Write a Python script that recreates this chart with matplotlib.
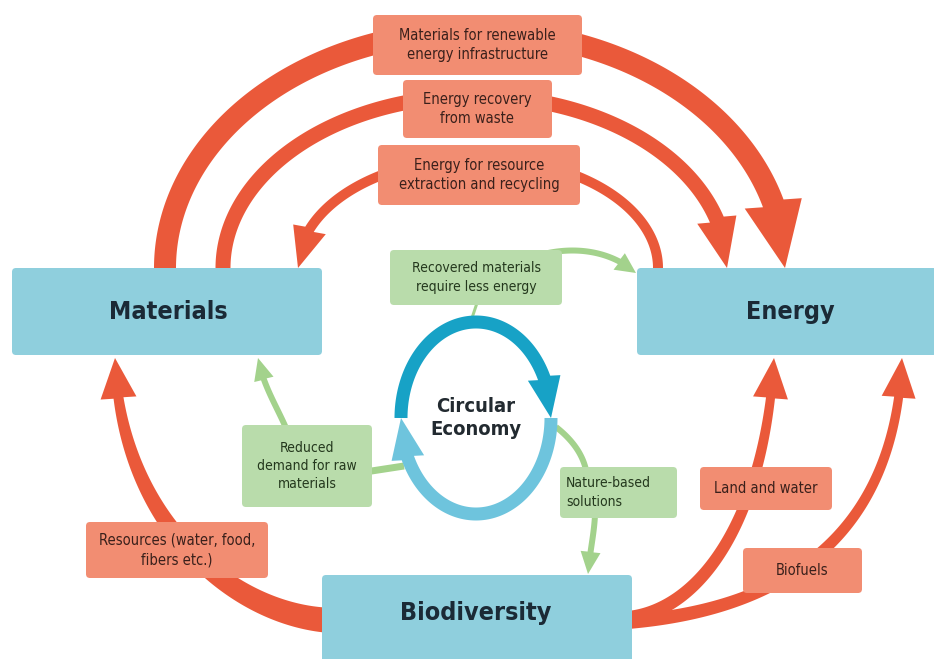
import numpy as np
import matplotlib
matplotlib.use("Agg")
import matplotlib.pyplot as plt
from matplotlib.patches import Polygon, FancyBboxPatch

# --- diagram content ---
node_names = ["Materials", "Energy", "Biodiversity"]
red_labels = [
    "Materials for renewable\nenergy infrastructure",
    "Energy recovery\nfrom waste",
    "Energy for resource\nextraction and recycling",
    "Resources (water, food,\nfibers etc.)",
    "Land and water",
    "Biofuels",
]
green_labels = [
    "Recovered materials\nrequire less energy",
    "Reduced\ndemand for raw\nmaterials",
    "Nature-based\nsolutions",
]
center_label = "Circular\nEconomy"

# --- layout (pixel coords, y down) ---
node_boxes = [(12, 268, 310, 87), (637, 268, 300, 87), (322, 575, 310, 90)]
red_boxes = [(373, 15, 209, 60), (403, 80, 149, 58), (378, 145, 202, 60),
             (86, 522, 182, 56), (700, 467, 132, 43), (743, 548, 119, 45)]
green_boxes = [(390, 250, 172, 55), (242, 425, 130, 82), (560, 467, 117, 51)]
green_align = ["center", "center", "left"]

BLUE = "#8fcfdd"
RED = "#ea593a"
SALMON = "#f28d72"
GBOX = "#b9dcab"
GARROW = "#a3d28c"
RING_DARK = "#17a2c6"
RING_LIGHT = "#6ec4dd"

W, H = 934, 659
fig = plt.figure(figsize=(W / 100, H / 100), dpi=100)
ax = fig.add_axes([0, 0, 1, 1])
ax.set_xlim(0, W)
ax.set_ylim(H, 0)
ax.axis("off")


def bezier(p0, p1, p2, p3, n=200):
    t = np.linspace(0, 1, n)[:, None]
    p0, p1, p2, p3 = map(np.array, (p0, p1, p2, p3))
    return ((1 - t) ** 3) * p0 + 3 * ((1 - t) ** 2) * t * p1 + 3 * (1 - t) * t ** 2 * p2 + t ** 3 * p3


def ellipse_arc(cx, cy, rx, ry, a0, a1, n=300):
    a = np.radians(np.linspace(a0, a1, n))
    return np.column_stack([cx + rx * np.cos(a), cy - ry * np.sin(a)])


def arrow(pts, w0, w1, color, hw=0, hl=0, z=2):
    d = np.diff(pts, axis=0)
    s = np.concatenate([[0], np.cumsum(np.hypot(d[:, 0], d[:, 1]))])
    L = s[-1]
    end = L - hl
    keep = s <= end
    body = pts[keep]
    sb = s[keep]
    tang = np.gradient(body, axis=0)
    tang /= np.linalg.norm(tang, axis=1)[:, None]
    nrm = np.column_stack([-tang[:, 1], tang[:, 0]])
    w = w0 + (w1 - w0) * sb / max(end, 1)
    left = body + nrm * w[:, None] / 2
    right = body - nrm * w[:, None] / 2
    poly = list(left)
    if hl > 0:
        base = body[-1]
        tip = pts[-1]
        dv = (tip - base) / np.linalg.norm(tip - base)
        nv = np.array([-dv[1], dv[0]])
        poly += [base + nv * hw / 2, tip, base - nv * hw / 2]
    poly += list(right[::-1])
    ax.add_patch(Polygon(poly, closed=True, fc=color, ec="none", zorder=z))


def box(x, y, w, h, color, z=4):
    ax.add_patch(FancyBboxPatch((x, y), w, h, boxstyle="round,pad=0,rounding_size=4",
                                fc=color, ec="none", zorder=z))


# top red arcs between Materials and Energy
arrow(ellipse_arc(475, 268, 310, 237, 182, 0), 22, 22, RED, hw=58, hl=66)
arrow(ellipse_arc(475, 268, 252, 172, 181, 0), 15, 15, RED, hw=40, hl=48)
arrow(ellipse_arc(478, 268, 180, 110, -1, 180), 10, 10, RED, hw=34, hl=40)

# red arrows from Biodiversity
arrow(bezier((325, 620), (230, 612), (120, 520), (115, 358)), 25, 10, RED, hw=36, hl=40)
arrow(bezier((628, 618), (700, 610), (765, 520), (774, 358)), 14, 9, RED, hw=35, hl=38)
arrow(bezier((628, 622), (780, 610), (895, 540), (902, 358)), 14, 9, RED, hw=34, hl=38)

# circular economy ring
arrow(ellipse_arc(476, 418, 75, 96, 180, 0), 13, 13, RING_DARK, hw=33, hl=40, z=3)
arrow(ellipse_arc(476, 418, 75, 96, 0, -180), 13, 13, RING_LIGHT, hw=33, hl=40, z=3)

# green connectors
arrow(bezier((530, 258), (570, 244), (610, 250), (636, 273)), 6, 6, GARROW, hw=20, hl=20)
arrow(np.array([[478, 300.0], [472, 318]]), 3, 3, GARROW)
arrow(bezier((286, 428), (276, 405), (263, 385), (258, 358)), 6, 6, GARROW, hw=20, hl=22)
arrow(np.array([[365, 472.0], [404, 466]]), 7, 7, GARROW)
arrow(bezier((556, 427), (570, 438), (582, 452), (586, 470)), 6, 6, GARROW)
arrow(bezier((595, 515), (594, 535), (590, 550), (588, 574)), 6, 6, GARROW, hw=20, hl=22)

# node boxes
for name, (x, y, w, h) in zip(node_names, node_boxes):
    box(x, y, w, h, BLUE, z=5)
node_text_pos = [(168, 312), (790, 312), (476, 613)]
for name, (tx, ty) in zip(node_names, node_text_pos):
    ax.text(tx, ty, name, ha="center", va="center", fontsize=18, fontweight="bold",
            fontstretch="condensed", color="#1b2a36", zorder=6)

# red label boxes
for lab, (x, y, w, h) in zip(red_labels, red_boxes):
    box(x, y, w, h, SALMON)
    ax.text(x + w / 2, y + h / 2, lab, ha="center", va="center", fontsize=10.5,
            fontstretch="condensed", color="#3a201b", linespacing=1.4, zorder=6)

# green label boxes
for lab, (x, y, w, h), al in zip(green_labels, green_boxes, green_align):
    box(x, y, w, h, GBOX)
    tx = x + w / 2 if al == "center" else x + 6
    ax.text(tx, y + h / 2, lab, ha=al, va="center", fontsize=10, multialignment=al,
            fontstretch="condensed", color="#24381d", linespacing=1.4, zorder=6)

ax.text(476, 418, center_label, ha="center", va="center", fontsize=14.5, fontweight="bold",
        fontstretch="condensed", color="#222a30", linespacing=1.3, zorder=6)

fig.savefig("out.png", dpi=100)
